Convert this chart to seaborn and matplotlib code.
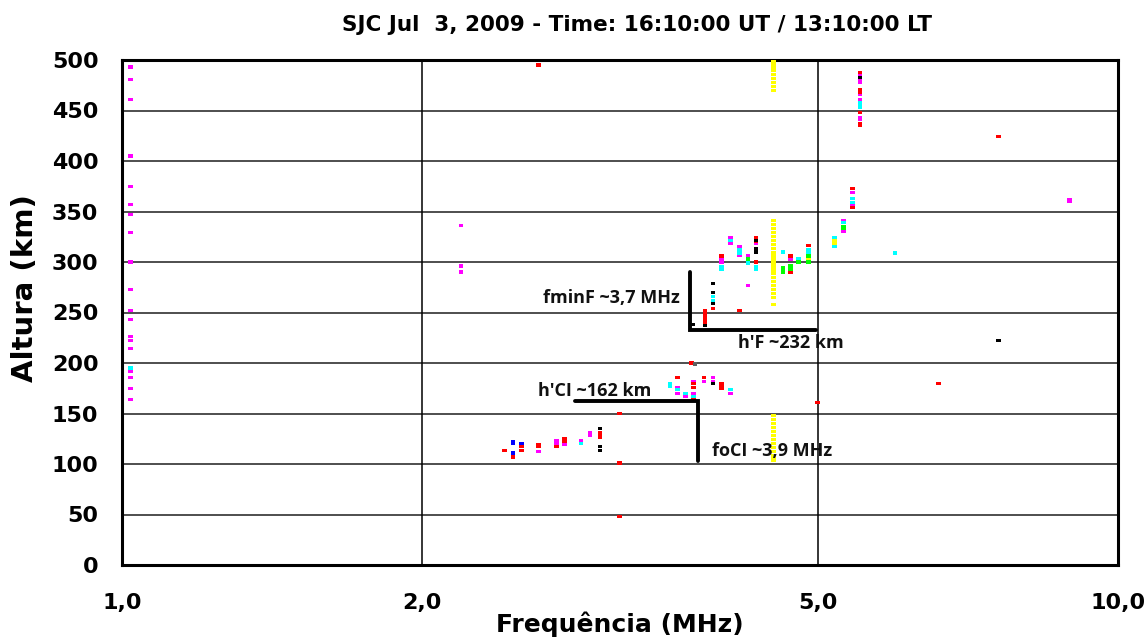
import numpy as np
import pandas as pd
import matplotlib
matplotlib.use("Agg")
import matplotlib.pyplot as plt
import seaborn as sns
from matplotlib.ticker import FixedLocator, NullFormatter

# ---------------- data (frequency MHz, virtual height km) ----------------
magenta_f = [1.02]*19 + [2.19]*3 + [2.62, 2.73, 2.73, 2.78, 2.89, 2.95, 2.95] + \
    [3.61, 3.61, 3.68, 3.75, 3.75, 3.84, 3.92, 3.92, 4.08] + \
    [4.00, 4.00, 4.08, 4.08, 4.17, 4.17, 4.25, 4.25, 4.33, 4.69] + \
    [5.51]*7 + [5.41, 5.41, 5.30, 5.30, 8.94, 8.94]
magenta_h = [493, 481, 461, 405, 375, 357, 347, 329, 300, 273, 252, 243, 226, 222, 214, 192, 186, 175, 164] + \
    [336, 296, 290] + [112, 123, 120, 119, 123, 131, 128] + \
    [176, 170, 167, 182, 170, 182, 186, 182, 170] + \
    [303, 300, 324, 318, 315, 307, 306, 277, 318, 303] + \
    [486, 480, 478, 466, 461, 443, 441] + [369, 357, 341, 330, 362, 360]

red_f = [2.42, 2.47, 2.52, 2.52, 2.62, 2.62, 2.73, 2.78, 2.78, 3.02, 3.02, 3.02, 3.16, 3.16, 3.16, 2.62] + \
    [3.73, 3.61, 3.75, 3.75, 3.75, 3.84, 4.00, 4.00, 4.00] + \
    [3.85, 3.85, 3.85, 3.85, 3.85, 3.85, 3.92, 4.17, 4.00, 4.33, 4.33, 4.33, 4.69, 4.69, 4.89] + \
    [5.51, 5.51, 5.51, 5.51, 5.51, 5.51, 5.41, 5.41, 7.59, 6.60, 4.99]
red_h = [113, 107, 117, 113, 119, 117, 117, 125, 122, 131, 128, 126, 150, 101, 48, 495] + \
    [200, 186, 180, 176, 164, 186, 180, 177, 175] + \
    [252, 249, 247, 244, 241, 239, 254, 252, 306, 324, 320, 300, 306, 290, 316] + \
    [488, 471, 468, 448, 437, 435, 373, 354, 424, 180, 161]

cyan_f = [1.02, 2.89, 3.55, 3.55, 3.61, 3.68, 3.75, 4.08, 3.92, 3.92, 4.00, 4.00, 4.08, 4.17, 4.17,
          4.25, 4.33, 4.33, 4.61, 4.78, 4.89, 4.89, 5.51, 5.51, 5.51, 5.41, 5.41, 5.30, 5.19, 5.19, 5.97]
cyan_h = [195, 120, 180, 177, 174, 170, 167, 174, 266, 262, 295, 293, 321, 312, 309,
          299, 295, 293, 310, 303, 312, 309, 458, 455, 453, 363, 359, 339, 324, 315, 309]

blue_f = [2.47, 2.47, 2.47, 2.52]
blue_h = [122, 120, 111, 120]

black_f = [3.02, 3.02, 3.02, 3.92, 3.92, 3.92, 3.92, 3.85, 3.74, 4.33, 4.33, 4.33, 5.51, 7.59]
black_h = [135, 117, 113, 180, 279, 270, 259, 237, 238, 321, 313, 310, 483, 222]

green_f = [4.25, 4.61, 4.61, 4.69, 4.69, 4.78, 4.89, 4.89, 5.30, 5.30]
green_h = [303, 294, 290, 296, 293, 300, 306, 300, 335, 333]

yellow_h = [498, 494, 490, 486, 482, 478, 474, 470,
            341, 337, 333, 329, 325, 321, 317, 313, 309, 305, 301, 297, 293, 289, 285,
            281, 277, 273, 269, 265, 258,
            148, 144, 140, 136, 132, 128, 124, 120, 116, 112, 108, 104,
            321, 318, 303]
yellow_f = [4.51]*41 + [5.19, 5.19, 4.89]

gray_f = [3.76]
gray_h = [199]

# annotation guide lines
fmin_line_f = [3.72, 3.72, 4.97]
fmin_line_h = [290, 233, 233]
hcl_line_f = [2.85, 3.79, 3.79]
hcl_line_h = [162, 162, 103]

title = "SJC Jul  3, 2009 - Time: 16:10:00 UT / 13:10:00 LT"
x_ticks = [1, 2, 5, 10]
x_ticklabels = ["1,0", "2,0", "5,0", "10,0"]
y_ticks = list(range(0, 501, 50))

# ---------------- build table ----------------
colors = {"magenta": "#ff00ff", "red": "#ff0000", "cyan": "#00ffff", "blue": "#0000ff",
          "black": "#000000", "green": "#00ff00", "yellow": "#ffff00", "gray": "#606060"}
parts = []
for name, f, h in [("yellow", yellow_f, yellow_h), ("magenta", magenta_f, magenta_h),
                   ("red", red_f, red_h), ("cyan", cyan_f, cyan_h), ("blue", blue_f, blue_h),
                   ("black", black_f, black_h), ("green", green_f, green_h), ("gray", gray_f, gray_h)]:
    parts.append(pd.DataFrame({"freq": f, "height": h, "color": name}))
df = pd.concat(parts, ignore_index=True)

# ---------------- figure ----------------
sns.set_theme(style="white")
plt.rcParams["font.family"] = ["DejaVu Sans"]
plt.rcParams["text.color"] = "black"
plt.rcParams["axes.labelcolor"] = "black"
plt.rcParams["xtick.color"] = "black"
plt.rcParams["ytick.color"] = "black"

fig = plt.figure(figsize=(11.48, 6.37), dpi=100)
ax = fig.add_axes([122/1148, 72/637, (1118-122)/1148, (565-60)/637])

ax.set_xscale("log")
ax.set_xlim(1, 10)
ax.set_ylim(0, 500)

# grid
for yv in y_ticks[1:-1]:
    ax.axhline(yv, color="#404040", lw=1.3, zorder=1)
for xv in [2, 5]:
    ax.axvline(xv, color="black", lw=1.1, zorder=1)

rect = [(-1, -0.7), (1, -0.7), (1, 0.7), (-1, 0.7)]
sns.scatterplot(data=df, x="freq", y="height", hue="color", palette=colors,
                marker=rect, s=11, linewidth=0, legend=False, ax=ax, zorder=3)

# annotations
ax.plot(fmin_line_f, fmin_line_h, color="black", lw=2.8, solid_joinstyle="miter", zorder=4)
ax.plot(hcl_line_f, hcl_line_h, color="black", lw=2.8, solid_joinstyle="miter", zorder=4)
afont = dict(fontsize=13, fontweight="bold", color="#111111", family=["Open Sans", "DejaVu Sans"])
ax.text(3.63, 264, "fminF ~3,7 MHz", ha="right", va="center", **afont)
ax.text(4.15, 220, "h'F ~232 km", ha="left", va="center", **afont)
ax.text(3.40, 172, "h'CI ~162 km", ha="right", va="center", **afont)
ax.text(3.91, 113, "foCI ~3,9 MHz", ha="left", va="center", **afont)

# ticks
ax.xaxis.set_major_locator(FixedLocator(x_ticks))
ax.xaxis.set_minor_locator(FixedLocator([3, 4, 6, 7, 8, 9]))
ax.xaxis.set_minor_formatter(NullFormatter())
ax.set_xticklabels(x_ticklabels)
ax.yaxis.set_major_locator(FixedLocator(y_ticks))
ax.yaxis.set_minor_locator(FixedLocator(list(range(25, 500, 50))))
ax.tick_params(axis="x", which="major", direction="out", length=7, width=2.2,
               labelsize=16, pad=13)
ax.tick_params(axis="y", which="major", direction="out", length=13, width=2.2,
               labelsize=16, pad=4)
ax.tick_params(axis="x", which="minor", direction="out", length=5, width=2.2)
ax.tick_params(axis="y", which="minor", direction="out", length=7, width=2.2)
for lab in ax.get_xticklabels() + ax.get_yticklabels():
    lab.set_fontweight("bold")
    lab.set_color("black")

for sp in ax.spines.values():
    sp.set_color("black")
    sp.set_linewidth(2.2)

ax.set_xlabel("Frequência (MHz)", fontsize=18, fontweight="bold", labelpad=-1)
ax.set_ylabel("Altura (km)", fontsize=21, fontweight="bold")
ax.yaxis.set_label_coords(-0.083, 0.549)
fig.text(0.555, 0.960, title, ha="center", va="center", fontsize=15.5, fontweight="bold",
         family=["DejaVu Sans"])

fig.savefig("out.png", dpi=100, facecolor="white")
